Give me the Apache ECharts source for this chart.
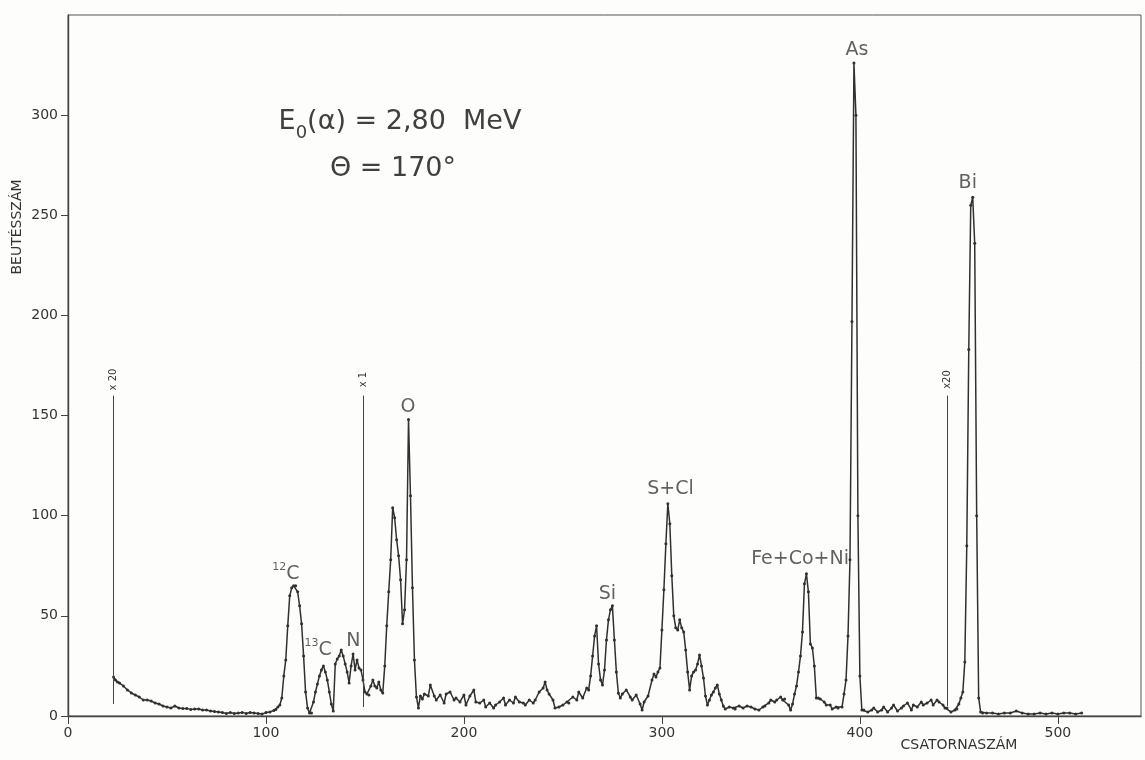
<!DOCTYPE html>
<html><head><meta charset="utf-8">
<script src="https://cdn.jsdelivr.net/npm/echarts@6/dist/echarts.min.js"></script>
<style>html,body{margin:0;padding:0;background:#fdfdfb}#c{width:1145px;height:760px}</style>
</head><body><div id="c"></div>
<script>
// ---- data ----
const channels = [
 23,24,25,26,28,30,32,34,36,38,40,42,44,46,48,50,52,54,56,58,60,62,64,66,68,70,72,74,76,78,80,82,84,86,88,90,92,94,96,98,100,102,104,105,106,107,
 108,109,110,111,112,113,114,115,116,117,118,119,120,121,122,123,124,125,126,127,128,129,130,131,132,133,134,
 135,136,137,138,139,140,141,142,143,144,145,146,147,148,149,150,151,152,153,154,155,156,157,158,159,
 160,161,162,163,164,165,166,167,168,169,170,171,172,173,174,175,176,177,
 178,179,180,182,183,185,186,188,190,191,193,195,196,198,200,201,203,205,206,208,210,211,213,215,216,218,220,221,223,225,226,228,230,231,233,235,236,238,240,241,242,243,245,246,248,250,252,253,255,257,258,260,262,
 263,264,265,266,267,268,269,270,271,272,273,274,275,276,277,278,279,280,282,284,285,287,289,290,291,293,
 295,296,297,298,299,300,301,302,303,304,305,306,307,308,309,310,311,312,313,314,315,316,317,318,319,320,321,322,323,324,325,326,327,328,329,330,331,332,
 334,336,337,339,341,343,345,347,349,351,352,354,355,357,358,360,361,362,364,365,
 366,367,368,369,370,371,372,373,374,375,376,377,378,379,380,382,383,385,386,388,389,391,
 392,393,394,395,396,397,398,399,400,401,402,404,406,407,409,411,412,414,416,417,419,421,422,424,426,427,429,431,432,434,436,437,439,440,442,443,444,446,448,449,
 450,451,452,453,454,455,456,457,458,459,460,461,462,464,467,470,473,476,479,482,485,488,491,494,497,500,503,506,509,512
];
const counts = [
 19.5,18,17,16.5,15,13,11.5,10.5,9.5,8,8,7.5,6.5,6,5,4.5,4,5,4,3.8,3.8,3.3,3.5,3.5,3,3,2.5,2.3,2,1.7,1.3,1.7,1.3,1.5,1.8,1.3,1.7,1.5,1.3,1,1.7,2,2.8,3.3,4.5,5.5,
 9,20,28,45,60,64,65,65,62,55,46,30,12,4,1.5,1.5,7,12,16,20,23,25,22,18,12,6,2.5,
 26,28.5,30,33,30,26,22,16.5,25,31,23,28,24,23,18,12,11,10.5,15,18,15,14,17,13,11.5,
 25,45,62,78,104,99,88,80,68,46,53,78,148,110,64,28,9.5,4,
 10,8.5,11,10,15.5,10,8,10.5,6.5,11,12,8,9,7,10.5,5.5,10,13,7,6.5,8,4.5,6.5,4,5.5,7,9,5.5,8,6.5,9.5,7,6.5,5.5,8,6.5,8,12,14,17,13,11,8,4,4.5,5.5,7,6.5,9.5,8,12,9,14,
 13,20,30,40,45,26,18,15.5,23,38,48,53,55,38,22,11.5,9,11,13,9.5,8,10.5,6,3,7,10,
 18,21,19.5,22,24,43,63,86,106,96,70,50,44,43,48,44,42,33,22,13,20,22,23,26,30.5,25,19,10,5.5,8,10.5,12,14,15.5,11,8,5,3.5,
 4.5,4,3.5,5,4,5,4.5,3.5,3,4.5,5,6.5,8,7,8,9.5,8,8.5,5.5,3,
 6,11,15,22,30,42,66,71,62,36,34,25,9,9,8.5,7,5.5,5.5,3.5,4.5,4,4.5,
 11,18,40,78,197,326,300,100,20,3,3,2,3,4,2,3,4.5,2,4,5.5,2.5,4,5,6.5,3,5.5,4.5,7,5.5,6.5,8,5.5,8,7,5.5,4,4,2,3,3.5,
 6,9,12,27,85,183,255,259,236,100,9,2,1.5,1.5,1.5,1,1.5,1.5,2.5,1.5,1,1,1.5,1,1.5,1,1.5,1.5,1,1.5
];
const xTicks = [0, 100, 200, 300, 400, 500];
const yTicks = [0, 50, 100, 150, 200, 250, 300];
const xMax = 542, yMax = 350;
// peak annotations (label anchor in channel / count units)
const peakNames = ['12C', '13C', 'N', 'O', 'Si', 'S+Cl', 'Fe+Co+Ni', 'As', 'Bi'];
const peakChannels = [110, 126.3, 144.2, 171.7, 272.5, 304.3, 369.8, 398.5, 454.5];
const peakCounts = [71, 33, 37.2, 154.2, 60.7, 113.5, 78.5, 332.5, 266];
// scale-change marker lines
const markerChannels = [23, 149, 444];
const markerLow = [6, 4.5, 5];
const markerHigh = [160, 160, 160];
const markerTexts = ['x 20', 'x 1', 'x20'];

// ---- chart ----
const FONT = 'DejaVu Sans';
const INK = '#303030';
const chart = echarts.init(document.getElementById('c'));

function peakFmt(name) {
  const m = name.match(/^(\d+)(.*)$/);
  return m ? '{sup|' + m[1] + '}{m|' + m[2] + '}' : '{m|' + name + '}';
}

const option = {
  backgroundColor: '#fdfdfb',
  animation: false,
  grid: { left: 68, right: 4, top: 15, bottom: 44, show: true, borderColor: '#555', borderWidth: 1 },
  xAxis: {
    type: 'value', min: 0, max: xMax, interval: 100,
    axisLine: { show: true, onZero: false, lineStyle: { color: '#444', width: 1.4 } },
    axisTick: { show: true, length: 8, customValues: xTicks, lineStyle: { color: '#444' } },
    axisLabel: { customValues: xTicks, color: '#333', fontFamily: FONT, fontSize: 14, margin: 10 },
    splitLine: { show: false }
  },
  yAxis: {
    type: 'value', min: 0, max: yMax, interval: 50,
    axisLine: { show: true, lineStyle: { color: '#444', width: 1.4 } },
    axisTick: { show: true, length: 7, customValues: yTicks, lineStyle: { color: '#444' } },
    axisLabel: { customValues: yTicks, color: '#333', fontFamily: FONT, fontSize: 14, margin: 10 },
    splitLine: { show: false }
  },
  series: [
    {
      type: 'line',
      data: channels.map((c, i) => [c, counts[i]]),
      showSymbol: true, showAllSymbol: true, symbol: 'circle', symbolSize: 3,
      itemStyle: { color: INK },
      lineStyle: { color: INK, width: 1.5 },
      z: 3,
      markLine: {
        silent: true, symbol: ['none', 'none'], label: { show: false },
        lineStyle: { color: '#444', width: 1, type: 'solid' },
        data: markerChannels.map((c, i) => [{ coord: [c, markerLow[i]] }, { coord: [c, markerHigh[i]] }])
      }
    },
    {
      type: 'scatter',
      symbolSize: 1,
      itemStyle: { color: 'transparent' },
      data: peakNames.map((n, i) => ({ name: n, value: [peakChannels[i], peakCounts[i]] })),
      label: {
        show: true, position: 'inside',
        formatter: p => peakFmt(p.name),
        rich: {
          m: { fontFamily: FONT, fontSize: 19, color: '#3a3a3a', lineHeight: 24, verticalAlign: 'middle' },
          sup: { fontFamily: FONT, fontSize: 11, color: '#3a3a3a', lineHeight: 24, verticalAlign: 'top' }
        }
      },
      z: 4
    }
  ],
  graphic: [
    {
      type: 'text', x: 400, y: 122,
      style: {
        text: '{a|E}{b|0}{a|(α) = 2,80  MeV}', align: 'center', verticalAlign: 'middle',
        rich: {
          a: { fontFamily: FONT, fontSize: 27, fill: '#404040', lineHeight: 40, verticalAlign: 'middle' },
          b: { fontFamily: FONT, fontSize: 18, fill: '#404040', lineHeight: 40, verticalAlign: 'bottom' }
        }
      }
    },
    {
      type: 'text', x: 393, y: 169,
      style: { text: 'Θ = 170°', align: 'center', verticalAlign: 'middle', fontFamily: FONT, fontSize: 27, fill: '#404040' }
    },
    {
      type: 'text', x: 17, y: 227, rotation: Math.PI / 2,
      style: { text: 'BEUTÉSSZÁM', align: 'center', verticalAlign: 'middle', fontFamily: FONT, fontSize: 14, fill: '#333' }
    },
    {
      type: 'text', x: 959, y: 745,
      style: { text: 'CSATORNASZÁM', align: 'center', verticalAlign: 'middle', fontFamily: FONT, fontSize: 14, fill: '#333' }
    }
  ]
};
chart.setOption(option);

// marker labels, placed above each marker line through the grid's own scales
const markerGraphics = markerChannels.map((c, i) => {
  const p = chart.convertToPixel({ gridIndex: 0 }, [c, markerHigh[i]]);
  return {
    type: 'text', x: p[0], y: p[1] - 16, rotation: Math.PI / 2,
    style: { text: markerTexts[i], align: 'center', verticalAlign: 'middle', fontFamily: FONT, fontSize: 10, fill: '#333' }
  };
});
chart.setOption({ graphic: option.graphic.concat(markerGraphics) });
</script>
</body></html>
